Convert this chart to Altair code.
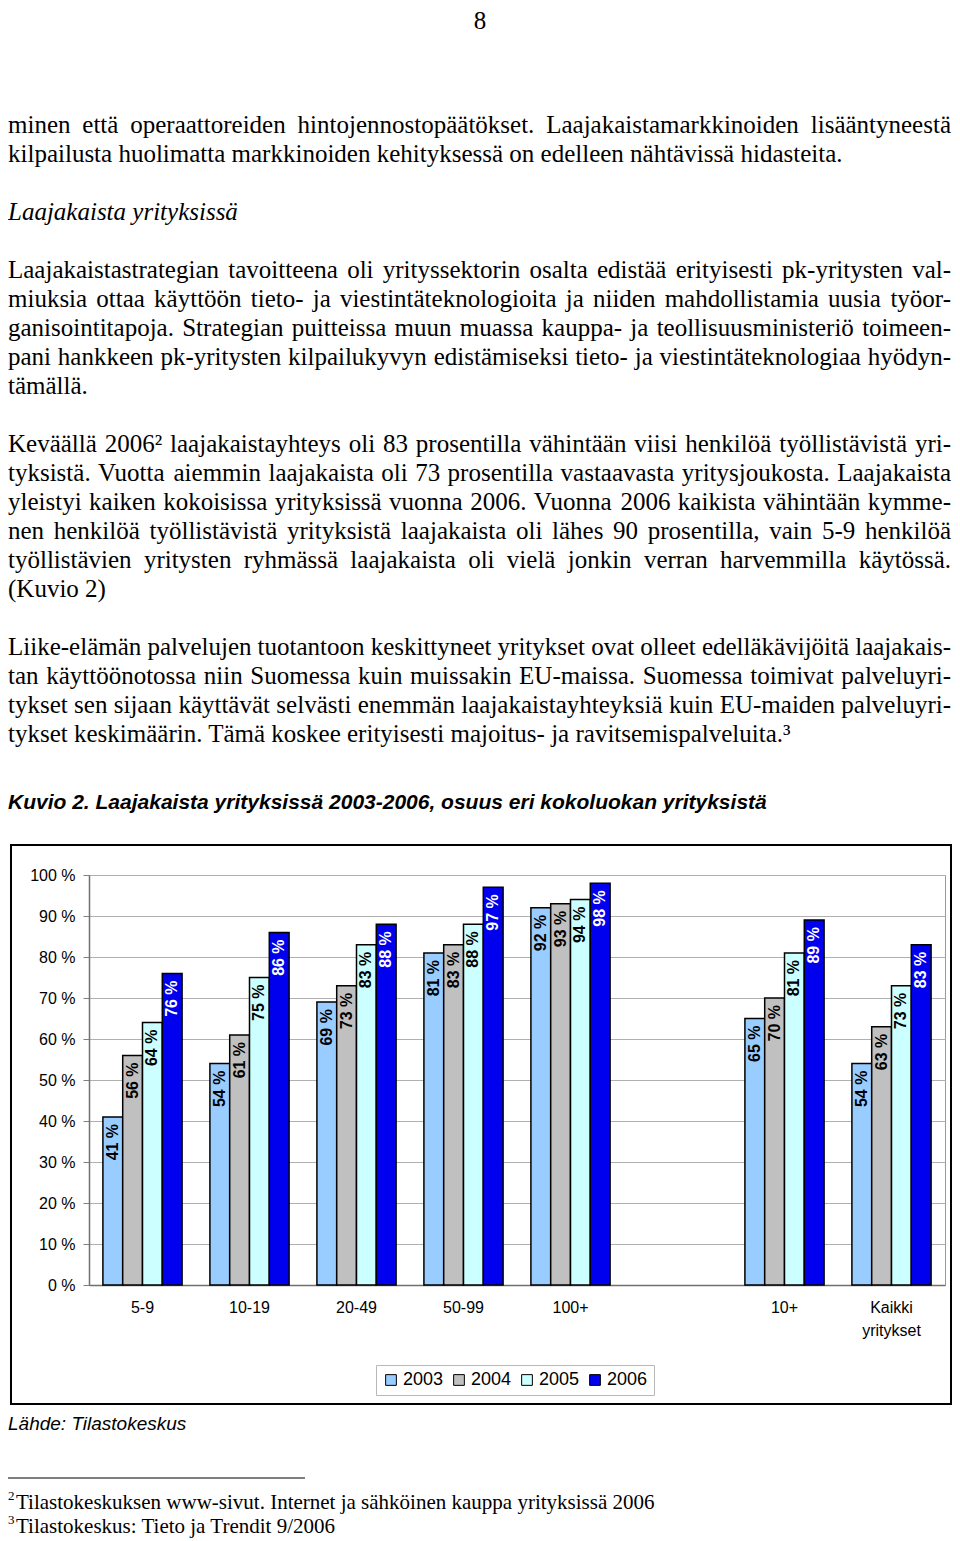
import altair as alt
import pandas as pd

# ---------------- chart data ----------------
categories = ["5-9", "10-19", "20-49", "50-99", "100+", " ", "10+", "Kaikki yritykset"]
years = ["2003", "2004", "2005", "2006"]
v2003 = [41, 54, 69, 81, 92, None, 65, 54]
v2004 = [56, 61, 73, 83, 93, None, 70, 63]
v2005 = [64, 75, 83, 88, 94, None, 81, 73]
v2006 = [76, 86, 88, 97, 98, None, 89, 83]
colors = ["#99CCFF", "#C0C0C0", "#CCFFFF", "#0000EE"]
y_ticks = [0, 10, 20, 30, 40, 50, 60, 70, 80, 90, 100]

# ---------------- page text ----------------
page_number = "8"
para1 = [
    "minen että operaattoreiden hintojennostopäätökset. Laajakaistamarkkinoiden lisääntyneestä",
    "kilpailusta huolimatta markkinoiden kehityksessä on edelleen nähtävissä hidasteita.",
]
heading = "Laajakaista yrityksissä"
para2 = [
    "Laajakaistastrategian tavoitteena oli yrityssektorin osalta edistää erityisesti pk-yritysten val-",
    "miuksia ottaa käyttöön tieto- ja viestintäteknologioita ja niiden mahdollistamia uusia työor-",
    "ganisointitapoja. Strategian puitteissa muun muassa kauppa- ja teollisuusministeriö toimeen-",
    "pani hankkeen pk-yritysten kilpailukyvyn edistämiseksi tieto- ja viestintäteknologiaa hyödyn-",
    "tämällä.",
]
para3 = [
    "Keväällä 2006² laajakaistayhteys oli 83 prosentilla vähintään viisi henkilöä työllistävistä yri-",
    "tyksistä. Vuotta aiemmin laajakaista oli 73 prosentilla vastaavasta yritysjoukosta. Laajakaista",
    "yleistyi kaiken kokoisissa yrityksissä vuonna 2006. Vuonna 2006 kaikista vähintään kymme-",
    "nen henkilöä työllistävistä yrityksistä laajakaista oli lähes 90 prosentilla, vain 5-9 henkilöä",
    "työllistävien yritysten ryhmässä laajakaista oli vielä jonkin verran harvemmilla käytössä.",
    "(Kuvio 2)",
]
para4 = [
    "Liike-elämän palvelujen tuotantoon keskittyneet yritykset ovat olleet edelläkävijöitä laajakais-",
    "tan käyttöönotossa niin Suomessa kuin muissakin EU-maissa. Suomessa toimivat palveluyri-",
    "tykset sen sijaan käyttävät selvästi enemmän laajakaistayhteyksiä kuin EU-maiden palveluyri-",
    "tykset keskimäärin. Tämä koskee erityisesti majoitus- ja ravitsemispalveluita.³",
]
figure_title = "Kuvio 2. Laajakaista yrityksissä 2003-2006, osuus eri kokoluokan yrityksistä"
source = "Lähde: Tilastokeskus"
footnote_marks = ["2", "3"]
footnotes = [
    "Tilastokeskuksen www-sivut. Internet ja sähköinen kauppa yrityksissä 2006",
    "Tilastokeskus: Tieto ja Trendit 9/2006",
]

# ---------------- layout (page pixels) ----------------
OX, OY = 89, 875          # page position of the plot area's top-left corner
PW, PH = 856, 410         # plot area size
TOTAL_W, TOTAL_H = 944, 1530
L, R = 8, 951             # text column
BODY_FS = 25
LINE = 29

# Times New Roman advance widths (1/1000 em) used to justify lines
TW = {" ": 250, ".": 250, ",": 250, "-": 333, ":": 278, "(": 333, ")": 333, "/": 278,
      "²": 300, "³": 300, "ä": 444, "ö": 500, "Ä": 722, "Ö": 722}
TW.update(dict(zip("abcdefghijklmnopqrstuvwxyz",
                   [444, 500, 444, 500, 444, 333, 500, 500, 278, 278, 500, 278, 778,
                    500, 500, 500, 500, 333, 389, 278, 500, 500, 722, 500, 500, 444])))
TW.update(dict(zip("ABCDEFGHIJKLMNOPQRSTUVWXYZ",
                   [722, 667, 667, 722, 611, 556, 722, 722, 333, 389, 722, 611, 889,
                    722, 722, 556, 722, 667, 556, 611, 722, 722, 944, 722, 722, 611])))
TW.update({d: 500 for d in "0123456789"})


def tw(s, fs):
    return sum(TW.get(c, 500) for c in s) / 1000.0 * fs


left_rows, right_rows = [], []


def layout(lines, first_center):
    for i, line in enumerate(lines):
        base = first_center + i * LINE + 8
        words = line.split(" ")
        justify = i < len(lines) - 1 and len(words) > 1
        if justify:
            widths = [tw(w, BODY_FS) for w in words]
            gap = (R - L - sum(widths)) / (len(words) - 1)
            x = L
            for j, w in enumerate(words):
                if j == len(words) - 1:
                    right_rows.append({"x": R - OX, "y": base - OY, "t": w})
                else:
                    left_rows.append({"x": x - OX, "y": base - OY, "t": w})
                x += widths[j] + gap
        else:
            left_rows.append({"x": L - OX, "y": base - OY, "t": line})


layout(para1, 125)
layout(para2, 270)
layout(para3, 444)
layout(para4, 647)

# ---------------- bar data ----------------
rows = []
for yr, vals in zip(years, [v2003, v2004, v2005, v2006]):
    for c, v in zip(categories, vals):
        if v is not None:
            rows.append({"cat": c, "year": yr, "value": v, "label": f"{v} %"})
bars_df = pd.DataFrame(rows)

xscale = alt.Scale(domain=categories, paddingInner=0.26, paddingOuter=0.13)
yscale = alt.Scale(domain=[0, 100], nice=False)
xoff = alt.XOffset("year:N", scale=alt.Scale(domain=years, paddingInner=0, paddingOuter=0))

x_enc = alt.X(
    "cat:N", scale=xscale, sort=categories,
    axis=alt.Axis(
        title=None, labelAngle=0, ticks=False, labelPadding=14,
        labelExpr="datum.value == 'Kaikki yritykset' ? split(datum.value, ' ') : datum.value",
        labelFont="Liberation Sans", labelFontSize=16, labelColor="black",
        labelLineHeight=23, domainColor="#707070", domainWidth=1.5, grid=False,
    ),
)
y_enc = alt.Y(
    "value:Q", scale=yscale,
    axis=alt.Axis(
        title=None, values=y_ticks, labelExpr="datum.value + ' %'",
        labelFont="Liberation Sans", labelFontSize=16, labelColor="black",
        labelPadding=8, tickSize=6, tickColor="#808080", domainColor="#707070",
        domainWidth=1.5, grid=True, gridColor="#b0b0b0", gridWidth=1,
    ),
)

frame = alt.Chart(pd.DataFrame({"a": [0]})).mark_rect(
    fill="white", fillOpacity=0, stroke="black", strokeWidth=2
).encode(
    x=alt.value(11 - OX), x2=alt.value(951 - OX),
    y=alt.value(845 - OY), y2=alt.value(1404 - OY),
)

bars = alt.Chart(bars_df).mark_bar(stroke="black", strokeWidth=1.5).encode(
    x=x_enc, xOffset=xoff, y=y_enc,
    color=alt.Color(
        "year:N", scale=alt.Scale(domain=years, range=colors),
        legend=alt.Legend(
            title=None, orient="none", legendX=376 - OX, legendY=1365 - OY,
            direction="horizontal", columns=4, symbolType="square", symbolSize=115,
            symbolStrokeColor="black", symbolStrokeWidth=1, labelOffset=3,
            columnPadding=6, labelFont="Liberation Sans", labelFontSize=18,
            labelColor="black", strokeColor="#b8b8b8", fillColor="white", padding=6,
        ),
    ),
)

bar_labels = alt.Chart(bars_df).mark_text(
    angle=270, align="right", baseline="middle", dx=-7,
    font="Liberation Sans", fontWeight="bold", fontSize=16,
).encode(
    x=alt.X("cat:N", scale=xscale, sort=categories),
    xOffset=xoff,
    y=alt.Y("value:Q", scale=yscale),
    text="label:N",
    color=alt.condition(alt.datum.year == "2006", alt.value("white"), alt.value("black")),
)

core = alt.layer(bars, bar_labels)


def text_layer(df, baseline="alphabetic", **mk):
    return alt.Chart(df).mark_text(color="black", baseline=baseline, **mk).encode(
        x=alt.X("x:Q", scale=None, axis=None),
        y=alt.Y("y:Q", scale=None, axis=None),
        text="t:N",
    )


body_left = text_layer(pd.DataFrame(left_rows), align="left", font="Liberation Serif", fontSize=BODY_FS)
body_right = text_layer(pd.DataFrame(right_rows), align="right", font="Liberation Serif", fontSize=BODY_FS)
page_no = text_layer(pd.DataFrame([{"x": 480 - OX, "y": 9 - OY, "t": page_number}]),
                     baseline="top", align="center", font="Liberation Serif", fontSize=BODY_FS)
head = text_layer(pd.DataFrame([{"x": L - OX, "y": 212 + 8 - OY, "t": heading}]),
                  align="left", font="Liberation Serif", fontSize=BODY_FS, fontStyle="italic")
fig_title = text_layer(pd.DataFrame([{"x": L - OX, "y": 809 - OY, "t": figure_title}]),
                       align="left", font="Liberation Sans", fontSize=21,
                       fontStyle="italic", fontWeight="bold")
src = text_layer(pd.DataFrame([{"x": L - OX, "y": 1430 - OY, "t": source}]),
                 align="left", font="Liberation Sans", fontSize=19, fontStyle="italic")
fn_text = text_layer(pd.DataFrame([{"x": 16 - OX, "y": b - OY, "t": t}
                                   for b, t in zip([1509, 1533], footnotes)]),
                     align="left", font="Liberation Serif", fontSize=21)
fn_marks = text_layer(pd.DataFrame([{"x": L - OX, "y": b - OY, "t": t}
                                    for b, t in zip([1500, 1524], footnote_marks)]),
                      align="left", font="Liberation Serif", fontSize=13)

sep = alt.Chart(pd.DataFrame({"a": [0]})).mark_rule(color="black", strokeWidth=1.2).encode(
    x=alt.value(L - OX), x2=alt.value(305 - OX), y=alt.value(1478 - OY),
)

chart = alt.layer(
    frame, core, body_left, body_right, page_no, head, fig_title, src,
    fn_text, fn_marks, sep,
).resolve_scale(
    x="independent", y="independent"
).resolve_axis(
    x="independent", y="independent"
).properties(
    width=PW, height=PH,
    padding={"left": OX - 8, "top": OY - 8,
             "right": TOTAL_W - (OX - 8) - PW, "bottom": TOTAL_H - (OY - 8) - PH},
    autosize=alt.AutoSizeParams(type="none"),
    background="white",
).configure_view(stroke="#999999", strokeWidth=1)

chart.save("out.html", embed_options={"renderer": "svg", "actions": False})
